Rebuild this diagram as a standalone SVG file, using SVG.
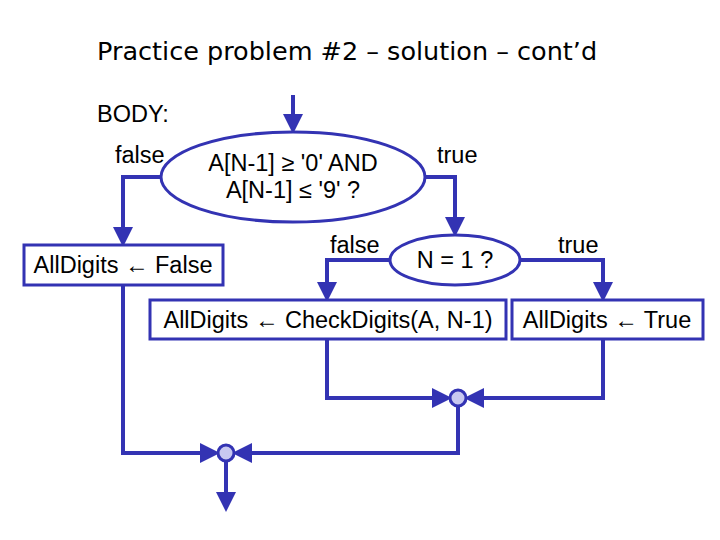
<svg xmlns="http://www.w3.org/2000/svg" width="720" height="540" viewBox="0 0 720 540">
<style>
.s{fill:none;stroke:#3333b3;stroke-width:4}
.b{fill:#fff;stroke:#3333b3;stroke-width:3}
.j{fill:#c8c8f0;stroke:#3333b3;stroke-width:3}
.t{font-family:"Liberation Sans",Arial,sans-serif;font-size:23.5px;fill:#000}
</style>
<defs><marker id="a" markerWidth="5" markerHeight="5" refX="4" refY="2.5" orient="auto" markerUnits="strokeWidth"><path d="M0,0L5,2.5L0,5z" fill="#3333b3"/></marker></defs>
<rect width="720" height="540" fill="#fff"/>
<text x="97" y="60" font-family="'DejaVu Sans',sans-serif" font-size="25.5" fill="#000">Practice problem #2 – solution – cont’d</text>
<text class="t" x="97" y="122">BODY:</text>
<g id="connectors">
<path class="s" d="M293,95V130" marker-end="url(#a)"/>
<path class="s" d="M161,177H123V243" marker-end="url(#a)"/>
<path class="s" d="M425,177H455V233" marker-end="url(#a)"/>
<path class="s" d="M390,260H327V298" marker-end="url(#a)"/>
<path class="s" d="M520,260H603V298" marker-end="url(#a)"/>
<path class="s" d="M327,339V398H448" marker-end="url(#a)"/>
<path class="s" d="M603,339V398H468" marker-end="url(#a)"/>
<path class="s" d="M458,406V453H236" marker-end="url(#a)"/>
<path class="s" d="M123,286V453H216" marker-end="url(#a)"/>
<path class="s" d="M226,461V508" marker-end="url(#a)"/>
</g>
<g id="cond1"><ellipse class="b" cx="293" cy="177" rx="132" ry="45"/>
<text class="t" x="293" y="171" text-anchor="middle">A[N-1] ≥ '0' AND</text>
<text class="t" x="293" y="198" text-anchor="middle">A[N-1] ≤ '9' ?</text></g>
<text class="t" x="115" y="163">false</text>
<text class="t" x="437" y="163">true</text>
<g id="false1"><rect class="b" x="24" y="245" width="199" height="40"/>
<text class="t" x="123" y="273" text-anchor="middle">AllDigits ← False</text></g>
<g id="cond2"><ellipse class="b" cx="455" cy="260" rx="65" ry="25"/>
<text class="t" x="455" y="268" text-anchor="middle">N = 1 ?</text></g>
<text class="t" x="330" y="253">false</text>
<text class="t" x="558" y="253">true</text>
<g id="rec"><rect class="b" x="150" y="300" width="356" height="39"/>
<text class="t" x="328" y="328" text-anchor="middle">AllDigits ← CheckDigits(A, N-1)</text></g>
<g id="true1"><rect class="b" x="512" y="300" width="191" height="39"/>
<text class="t" x="607" y="328" text-anchor="middle">AllDigits ← True</text></g>
<g id="j1"><circle class="j" cx="458" cy="398" r="8"/></g>
<g id="j2"><circle class="j" cx="226" cy="453" r="8"/></g>
</svg>
